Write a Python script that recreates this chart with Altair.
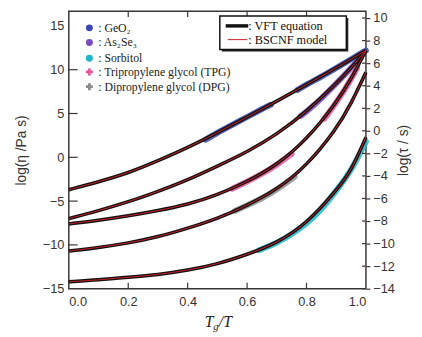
import altair as alt
import pandas as pd

# ---------------- data ----------------
x_grid = [0.0, 0.1, 0.2, 0.3, 0.4, 0.5, 0.6, 0.7, 0.8, 0.9, 0.95, 1.0]
geo2_fit = [-3.7, -2.8, -1.8, -0.4, 1.1, 2.8, 4.6, 6.4, 8.3, 10.2, 11.2, 12.2]
as2se3_fit = [-7.0, -6.1, -5.1, -3.9, -2.6, -1.0, 0.6, 2.6, 5.2, 8.4, 10.2, 12.2]
tpg_fit = [-7.6, -7.2, -6.7, -6.1, -5.4, -4.3, -2.8, -0.9, 2.0, 6.2, 8.9, 12.2]
dpg_fit = [-10.7, -10.3, -9.8, -9.1, -8.1, -7.0, -5.5, -3.7, -1.0, 3.2, 6.1, 9.7]
sorb_fit = [-14.2, -14.0, -13.7, -13.4, -12.9, -12.2, -11.1, -9.8, -7.6, -3.8, -1.6, 2.3]

# measured data (drawn as dense bands)
geo2_a_x = [0.46, 0.50, 0.55, 0.60, 0.65, 0.68]
geo2_a_y = [2.0, 2.8, 3.7, 4.6, 5.5, 6.0]
geo2_b_x = [0.77, 0.80, 0.85, 0.90, 0.95, 1.00]
geo2_b_y = [7.7, 8.3, 9.2, 10.2, 11.2, 12.2]
as2se3_x = [0.78, 0.80, 0.85, 0.90, 0.95, 0.97]
as2se3_y = [4.7, 5.2, 6.7, 8.4, 10.2, 10.9]
sorb_x = [0.64, 0.70, 0.75, 0.80, 0.85, 0.90, 0.95, 1.00]
sorb_y = [-10.6, -9.8, -8.8, -7.6, -6.0, -3.8, -1.6, 1.8]
tpg_a_x = [0.55, 0.60, 0.65, 0.70, 0.75]
tpg_a_y = [-3.6, -2.8, -1.9, -0.9, 0.4]
tpg_b_x = [0.86, 0.90, 0.95, 0.97]
tpg_b_y = [4.4, 6.2, 8.9, 10.2]
dpg_x = [0.56, 0.60, 0.65, 0.70, 0.76]
dpg_y = [-6.1, -5.5, -4.7, -3.7, -2.2]

x_ticks = [0.0, 0.2, 0.4, 0.6, 0.8, 1.0]
left_ticks = [-15, -10, -5, 0, 5, 10, 15]
right_ticks = [-14, -12, -10, -8, -6, -4, -2, 0, 2, 4, 6, 8, 10]

legend_labels = [": GeO₂", ": As₂Se₃", ": Sorbitol",
                 ": Tripropylene glycol (TPG)", ": Dipropylene glycol (DPG)"]
legend_colors = ["#3a47b2", "#7a4cc4", "#1cb6c8", "#e8559c", "#8c8c8c"]
legend_shapes = ["circle", "circle", "circle", "cross", "cross"]
model_labels = [": VFT equation", ": BSCNF model"]

# ---------------- layout ----------------
W, H = 303, 283
YDOM = [-15, 16.68]
RDOM = [-14, 10.61]
AX = "#3a3434"

fit_rows = []
for name, ys in [("GeO2", geo2_fit), ("As2Se3", as2se3_fit), ("TPG", tpg_fit),
                 ("DPG", dpg_fit), ("Sorbitol", sorb_fit)]:
    for xv, yv in zip(x_grid, ys):
        fit_rows.append({"series": name, "x": xv, "y": yv})
fits = pd.DataFrame(fit_rows)

band_rows = []
for seg, color, xs, ys in [("g1", legend_colors[0], geo2_a_x, geo2_a_y),
                           ("g2", legend_colors[0], geo2_b_x, geo2_b_y),
                           ("a1", legend_colors[1], as2se3_x, as2se3_y),
                           ("s1", legend_colors[2], sorb_x, sorb_y),
                           ("t1", legend_colors[3], tpg_a_x, tpg_a_y),
                           ("t2", legend_colors[3], tpg_b_x, tpg_b_y),
                           ("d1", legend_colors[4], dpg_x, dpg_y)]:
    for xv, yv in zip(xs, ys):
        band_rows.append({"seg": seg, "color": color, "x": xv, "y": yv})
bands = pd.DataFrame(band_rows)

X = alt.X("x:Q", scale=alt.Scale(domain=[0, 1], nice=False, zero=False),
          axis=alt.Axis(values=x_ticks, format=".1f", ticks=False, domain=False,
                        grid=False, labelFontSize=13, labelPadding=7,
                        labelColor="#333", labelFont="Liberation Sans", title=None))
Y = alt.Y("y:Q", scale=alt.Scale(domain=YDOM, nice=False, zero=False),
          axis=alt.Axis(values=left_ticks, ticks=False, domain=False, grid=False,
                        labelFontSize=13, labelPadding=5, labelColor="#333",
                        labelFont="Liberation Sans", title="log(η /Pa s)",
                        titleFont="Liberation Sans", titleFontSize=14,
                        titleFontWeight="normal", titleColor="#333", titlePadding=14))

band_layer = alt.Chart(bands).mark_line(strokeWidth=6, opacity=0.85,
                                        interpolate="basis", strokeCap="round").encode(
    x=X, y=Y, detail="seg:N", color=alt.Color("color:N", scale=None))
black = alt.Chart(fits).mark_line(color="#111", strokeWidth=3.6,
                                  interpolate="basis").encode(x=X, y=Y, detail="series:N")
red = alt.Chart(fits).mark_line(color="#c8202c", strokeWidth=1,
                                interpolate="basis").encode(x=X, y=Y, detail="series:N")

xt = pd.DataFrame({"x": x_ticks[1:-1]})
bottom_ticks = alt.Chart(xt).mark_rule(color=AX, strokeWidth=1.2).encode(
    x=X, y=alt.value(H), y2=alt.value(H - 6))
top_ticks = alt.Chart(xt).mark_rule(color=AX, strokeWidth=1.2).encode(
    x=X, y=alt.value(0), y2=alt.value(6))
lt = pd.DataFrame({"y": left_ticks[1:-1]})
left_tk = alt.Chart(lt).mark_rule(color=AX, strokeWidth=1.2).encode(
    y=Y, x=alt.value(0), x2=alt.value(9))

one = pd.DataFrame({"a": [0]})
legend_layers = []
row_y = [17, 32, 48, 62, 77]
for lab, col, shp, yy in zip(legend_labels, legend_colors, legend_shapes, row_y):
    legend_layers.append(alt.Chart(one).mark_point(shape=shp, filled=True, size=50,
                                                   color=col, opacity=1).encode(
        x=alt.value(21), y=alt.value(yy)))
    legend_layers.append(alt.Chart(one).mark_text(align="left", baseline="middle",
                                                  font="Liberation Serif", fontSize=12,
                                                  color="#222").encode(
        x=alt.value(30), y=alt.value(yy), text=alt.value(lab)))

box_shadow = alt.Chart(one).mark_rect(fill="#222").encode(
    x=alt.value(156), x2=alt.value(285), y=alt.value(7), y2=alt.value(41))
box = alt.Chart(one).mark_rect(fill="white", stroke="#111", strokeWidth=1.5).encode(
    x=alt.value(154), x2=alt.value(283), y=alt.value(5), y2=alt.value(39))
vft_line = alt.Chart(one).mark_rule(color="#111", strokeWidth=3.5).encode(
    x=alt.value(160), x2=alt.value(183), y=alt.value(15))
bs_line = alt.Chart(one).mark_rule(color="#c8202c", strokeWidth=1).encode(
    x=alt.value(162), x2=alt.value(182), y=alt.value(29))
m_texts = [alt.Chart(one).mark_text(align="left", baseline="middle",
                                    font="Liberation Serif", fontSize=12.5,
                                    color="#111").encode(
    x=alt.value(183), y=alt.value(yy), text=alt.value(t))
    for t, yy in zip(model_labels, [15, 29])]

xt1 = alt.Chart(one).mark_text(align="center", baseline="middle", font="Liberation Serif",
                               fontSize=16, fontStyle="italic", color="#222").encode(
    x=alt.value(143), y=alt.value(317), text=alt.value("T"))
xt2 = alt.Chart(one).mark_text(align="center", baseline="middle", font="Liberation Serif",
                               fontSize=11, fontStyle="italic", color="#222").encode(
    x=alt.value(150), y=alt.value(322), text=alt.value("g"))
xt3 = alt.Chart(one).mark_text(align="left", baseline="middle", font="Liberation Serif",
                               fontSize=16, fontStyle="italic", color="#222").encode(
    x=alt.value(153), y=alt.value(317), text=alt.value("/T"))

main = alt.layer(band_layer, black, red, bottom_ticks, top_ticks, left_tk,
                 *legend_layers, box_shadow, box, vft_line, bs_line, *m_texts,
                 xt1, xt2, xt3)

RY = alt.Y("r:Q", scale=alt.Scale(domain=RDOM, nice=False, zero=False),
           axis=alt.Axis(orient="right", values=right_ticks, tickSize=4, tickColor=AX,
                         tickWidth=1.2, domain=False, grid=False, labelFontSize=13,
                         labelPadding=3, labelColor="#333", labelFont="Liberation Sans",
                         title="log(τ / s)", titleAngle=270, titleFont="Liberation Sans",
                         titleFontSize=14, titleFontWeight="normal", titleColor="#333",
                         titlePadding=16))
right = alt.Chart(pd.DataFrame({"r": right_ticks})).mark_rule(
    color=AX, strokeWidth=1.2).encode(y=RY, x=alt.value(W), x2=alt.value(W - 4))

chart = alt.layer(main, right).resolve_scale(y="independent").properties(
    width=W, height=H, autosize=alt.AutoSizeParams(type="none"),
    padding={"left": 62, "top": 0, "right": 49, "bottom": 46},
    background="white"
).configure_view(stroke=AX, strokeWidth=1.5)

chart.save("out.html", embed_options={"renderer": "svg", "actions": False})
